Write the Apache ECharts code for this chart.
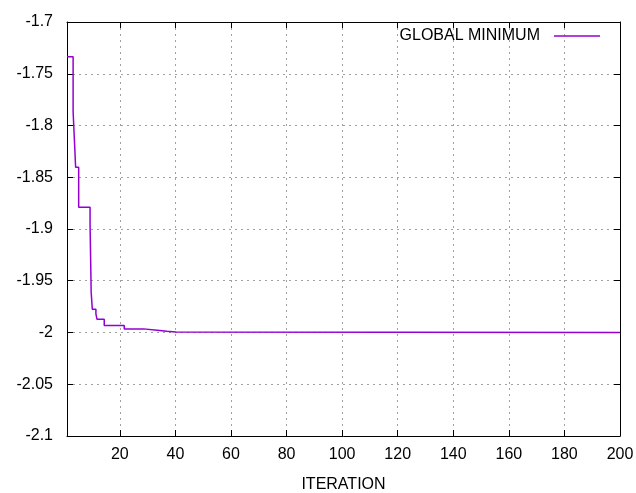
<!DOCTYPE html>
<html>
<head>
<meta charset="utf-8">
<script src="https://cdn.jsdelivr.net/npm/echarts@6/dist/echarts.min.js"></script>
<style>
html,body{margin:0;padding:0;background:#fff;}
#chart{width:636px;height:493px;}
</style>
</head>
<body>
<div id="chart"></div>
<script>
// Data
const seriesName = 'GLOBAL MINIMUM';
const xAxisTitle = 'ITERATION';
const iterations = [1, 3.2, 3.8, 4.1, 5.2, 9.3, 9.5, 9.7, 10.1, 11.4, 11.8, 14.4, 21.6, 28.5, 33.5, 36.9, 40.2, 200];
const globalMinimum = [-1.7335, -1.7867, -1.822, -1.8404, -1.879, -1.896, -1.928, -1.961, -1.9776, -1.982, -1.9873, -1.9932, -1.9965, -1.9978, -1.9988, -1.9995, -2.0, -2.0];
const xTickValues = [20, 40, 60, 80, 100, 120, 140, 160, 180, 200];
const xMin = 1, xMax = 200;
const yMin = -2.1, yMax = -1.7, yStep = 0.05;

const FONT = 'Liberation Sans, Arial, sans-serif';
const chart = echarts.init(document.getElementById('chart'), null, {renderer: 'canvas'});

const gridLine = {show: true, lineStyle: {color: '#a0a0a0', width: 1, type: [2, 4]}};
const axisLineStyle = {show: true, lineStyle: {color: '#000', width: 1}};

const xBase = {
  type: 'value', min: xMin, max: xMax,
  axisLine: axisLineStyle,
  axisTick: {show: true, inside: true, length: 6, customValues: xTickValues, lineStyle: {color: '#000'}},
};
const yBase = {
  type: 'value', min: yMin, max: yMax, interval: yStep,
  axisLine: axisLineStyle,
  axisTick: {show: true, inside: true, length: 6, lineStyle: {color: '#000'}},
};

chart.setOption({
  animation: false,
  backgroundColor: '#fff',
  grid: {left: 67, right: 16, top: 22, bottom: 57, containLabel: false, outerBoundsMode: 'none'},
  legend: {
    data: [seriesName],
    right: 36, top: 28, padding: 0,
    align: 'right',
    icon: 'rect', itemWidth: 46, itemHeight: 1.5,
    itemStyle: {color: '#9400d3'},
    textStyle: {fontFamily: FONT, fontSize: 16, color: '#000', padding: [0, 9, 0, 0]}
  },
  xAxis: [
    Object.assign({}, xBase, {
      position: 'bottom',
      name: xAxisTitle, nameLocation: 'middle', nameGap: 41,
      nameTextStyle: {fontFamily: FONT, fontSize: 16, color: '#000'},
      axisLabel: {show: true, customValues: xTickValues, margin: 11, fontFamily: FONT, fontSize: 16, color: '#000'},
      splitLine: gridLine
    }),
    Object.assign({}, xBase, {
      position: 'top',
      axisLabel: {show: false},
      splitLine: {show: false}
    })
  ],
  yAxis: [
    Object.assign({}, yBase, {
      position: 'left',
      axisLabel: {
        show: true, margin: 14, fontFamily: FONT, fontSize: 16, color: '#000',
        formatter: v => String(parseFloat(Number(v).toFixed(2)))
      },
      splitLine: gridLine
    }),
    Object.assign({}, yBase, {
      position: 'right',
      axisLabel: {show: false},
      splitLine: {show: false}
    })
  ],
  series: [{
    name: seriesName,
    type: 'line',
    step: 'end',
    xAxisIndex: 0, yAxisIndex: 0,
    symbol: 'none', showSymbol: false,
    lineStyle: {color: '#9400d3', width: 1.5},
    itemStyle: {color: '#9400d3'},
    data: iterations.map((x, i) => [x, globalMinimum[i]])
  }]
});
</script>
</body>
</html>
